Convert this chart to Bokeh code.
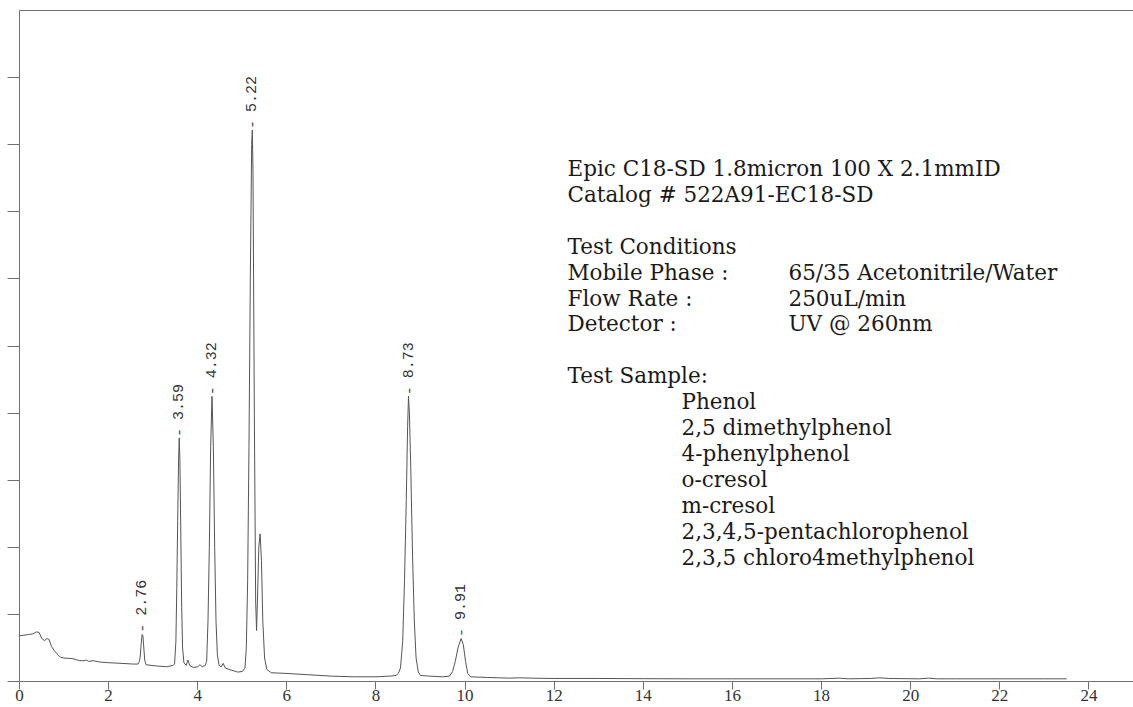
from math import pi
from bokeh.plotting import figure
from bokeh.models import LinearAxis, FixedTicker, Range1d
from bokeh.core.properties import value
from bokeh.embed import file_html
from bokeh.resources import INLINE

# ---------------- data ----------------
time_min = [0.00, 0.10, 0.20, 0.30, 0.38, 0.44, 0.50, 0.56, 0.62, 0.66, 0.72, 0.78,
            0.86, 0.92, 1.00, 1.20, 1.35, 1.45, 1.50, 1.55, 1.65, 1.80, 2.00, 2.30,
            2.55, 2.66, 2.69, 2.71, 2.73, 2.75, 2.77, 2.79, 2.81, 2.84, 2.95, 3.10,
            3.30, 3.45, 3.48, 3.51, 3.53, 3.55, 3.57, 3.585, 3.60, 3.62, 3.64, 3.66,
            3.69, 3.74, 3.78, 3.82, 3.90, 4.00, 4.05, 4.10, 4.17, 4.20, 4.23, 4.26,
            4.29, 4.32, 4.35, 4.38, 4.41, 4.44, 4.48, 4.53, 4.57, 4.62, 4.75, 4.90,
            5.00, 5.06, 5.09, 5.12, 5.15, 5.18, 5.21, 5.225, 5.24, 5.27, 5.30, 5.32,
            5.34, 5.37, 5.40, 5.43, 5.46, 5.50, 5.55, 5.65, 6.00, 6.50, 7.00, 7.50,
            8.00, 8.30, 8.45, 8.50, 8.55, 8.60, 8.64, 8.68, 8.71, 8.73, 8.75, 8.78,
            8.82, 8.86, 8.90, 8.95, 9.00, 9.20, 9.50, 9.65, 9.72, 9.78, 9.84, 9.91,
            9.96, 10.01, 10.06, 10.12, 10.50, 11.00, 11.20, 11.50, 12.00, 13.00,
            14.00, 15.00, 16.00, 17.00, 18.00, 18.40, 18.60, 19.10, 19.30, 19.50,
            20.20, 20.40, 20.60, 21.00, 22.00, 23.00, 23.50]
signal = [0.68, 0.69, 0.70, 0.71, 0.74, 0.73, 0.64, 0.61, 0.64, 0.63, 0.52, 0.46,
          0.40, 0.36, 0.35, 0.34, 0.31, 0.31, 0.32, 0.30, 0.31, 0.29, 0.28, 0.27,
          0.26, 0.26, 0.30, 0.38, 0.55, 0.70, 0.68, 0.50, 0.32, 0.25, 0.24, 0.23,
          0.22, 0.24, 0.26, 0.60, 1.40, 2.40, 3.30, 3.63, 3.30, 2.20, 1.10, 0.50,
          0.28, 0.24, 0.32, 0.24, 0.21, 0.22, 0.25, 0.22, 0.24, 0.30, 0.90, 2.00,
          3.50, 4.25, 3.50, 2.00, 0.90, 0.40, 0.24, 0.22, 0.27, 0.20, 0.17, 0.14,
          0.15, 0.20, 0.50, 1.50, 3.50, 6.00, 8.00, 8.22, 7.60, 4.00, 1.20, 0.76,
          1.20, 2.00, 2.20, 1.80, 0.90, 0.35, 0.18, 0.13, 0.12, 0.10, 0.08, 0.07,
          0.07, 0.08, 0.09, 0.12, 0.20, 0.60, 1.50, 2.70, 3.80, 4.25, 4.00, 3.20,
          1.90, 0.90, 0.35, 0.14, 0.09, 0.08, 0.07, 0.08, 0.15, 0.30, 0.50, 0.64,
          0.55, 0.30, 0.12, 0.07, 0.06, 0.05, 0.055, 0.05, 0.045, 0.045,
          0.042, 0.04, 0.04, 0.04, 0.04, 0.05, 0.04, 0.045, 0.055, 0.045,
          0.04, 0.05, 0.04, 0.04, 0.04, 0.04, 0.04]

peak_times = [2.76, 3.59, 4.32, 5.22, 8.73, 9.91]
peak_heights = [0.71, 3.63, 4.25, 8.22, 4.25, 0.65]
peak_labels = ["2.76", "3.59", "4.32", "5.22", "8.73", "9.91"]

x_ticks = [0, 2, 4, 6, 8, 10, 12, 14, 16, 18, 20, 22, 24]
y_ticks = [0, 1, 2, 3, 4, 5, 6, 7, 8, 9]

column_lines = ["Epic C18-SD 1.8micron 100 X 2.1mmID", "Catalog # 522A91-EC18-SD"]
conditions_title = "Test Conditions"
condition_names = ["Mobile Phase :", "Flow Rate :", "Detector  :"]
condition_values = ["65/35 Acetonitrile/Water", "250uL/min", "UV @ 260nm"]
sample_title = "Test Sample:"
sample_names = ["Phenol", "2,5 dimethylphenol", "4-phenylphenol", "o-cresol",
                "m-cresol", "2,3,4,5-pentachlorophenol", "2,3,5 chloro4methylphenol"]

# ---------------- layout ----------------
W, H = 1133, 707
X_END = 25.0
Y_END = 10.0
frame_left, frame_right = 19, 1133
frame_top, frame_bottom = 10, 681
ppx = (frame_right - frame_left) / X_END
ppy = (frame_bottom - frame_top) / Y_END


def dx(px):
    return (px - frame_left) / ppx


def dy(py):
    return (frame_bottom - py) / ppy


p = figure(width=W, height=H, output_backend="svg", toolbar_location=None,
           x_range=Range1d(0, X_END), y_range=Range1d(0, Y_END),
           min_border_left=frame_left, min_border_right=0,
           min_border_top=frame_top, min_border_bottom=H - frame_bottom)
p.outline_line_color = None
p.xgrid.visible = False
p.ygrid.visible = False
p.background_fill_color = "white"
p.border_fill_color = "white"

axis_col = "#707070"
xa = p.xaxis[0]
xa.ticker = FixedTicker(ticks=x_ticks, minor_ticks=[])
xa.major_tick_out = 8
xa.major_tick_in = 0
xa.major_label_standoff = 0
xa.major_label_text_font = "Liberation Sans Narrow"
xa.major_label_text_font_size = "17px"
xa.major_label_text_color = "#333333"
xa.axis_line_color = axis_col
xa.major_tick_line_color = axis_col
xa.minor_tick_line_color = None

ya = p.yaxis[0]
ya.ticker = FixedTicker(ticks=y_ticks, minor_ticks=[])
ya.major_tick_out = 12
ya.major_tick_in = 0
ya.major_label_standoff = 0
ya.major_label_text_font_size = "0px"
ya.major_label_text_color = None
ya.axis_line_color = axis_col
ya.major_tick_line_color = axis_col
ya.minor_tick_line_color = None

top = LinearAxis(ticker=FixedTicker(ticks=[], minor_ticks=[]), axis_line_color=axis_col,
                 major_tick_out=0, major_tick_in=0, major_label_standoff=0,
                 major_label_text_font_size="0px", major_label_text_color=None,
                 minor_tick_line_color=None)
p.add_layout(top, "above")

# chromatogram trace
p.line(time_min, signal, line_color="#555555", line_width=1)

# peak retention-time labels
p.text(x=peak_times, y=peak_heights, text=["-"] * len(peak_times), angle=pi / 2,
       text_align="left", text_baseline="middle", y_offset=-1,
       text_font=value("Liberation Mono"), text_font_size="15px", text_color="#444444")
p.text(x=peak_times, y=peak_heights, text=peak_labels, angle=pi / 2,
       text_align="left", text_baseline="middle", y_offset=-18, x_offset=-1,
       text_font=value("Liberation Mono"), text_font_size="15px", text_color="#333333")

# description text block
left_px, value_px, indent_px = 567, 788, 681
base0, step = 168, 25.9
serif = value("DejaVu Serif")
tx, ty, tt = [], [], []
for i, s in enumerate(column_lines):
    tx.append(dx(left_px)); ty.append(dy(base0 + step * i)); tt.append(s)
tx.append(dx(left_px)); ty.append(dy(base0 + step * 3)); tt.append(conditions_title)
for i, (n, v) in enumerate(zip(condition_names, condition_values)):
    tx.append(dx(left_px)); ty.append(dy(base0 + step * (4 + i))); tt.append(n)
    tx.append(dx(value_px)); ty.append(dy(base0 + step * (4 + i))); tt.append(v)
tx.append(dx(left_px)); ty.append(dy(base0 + step * 8)); tt.append(sample_title)
for i, s in enumerate(sample_names):
    tx.append(dx(indent_px)); ty.append(dy(base0 + step * (9 + i))); tt.append(s)

p.text(x=tx, y=ty, text=tt, text_font=serif, text_font_size="21.5px",
       text_align="left", text_baseline="alphabetic", text_color="#1a1a1a")

open("out.html", "w").write(file_html(p, INLINE))
